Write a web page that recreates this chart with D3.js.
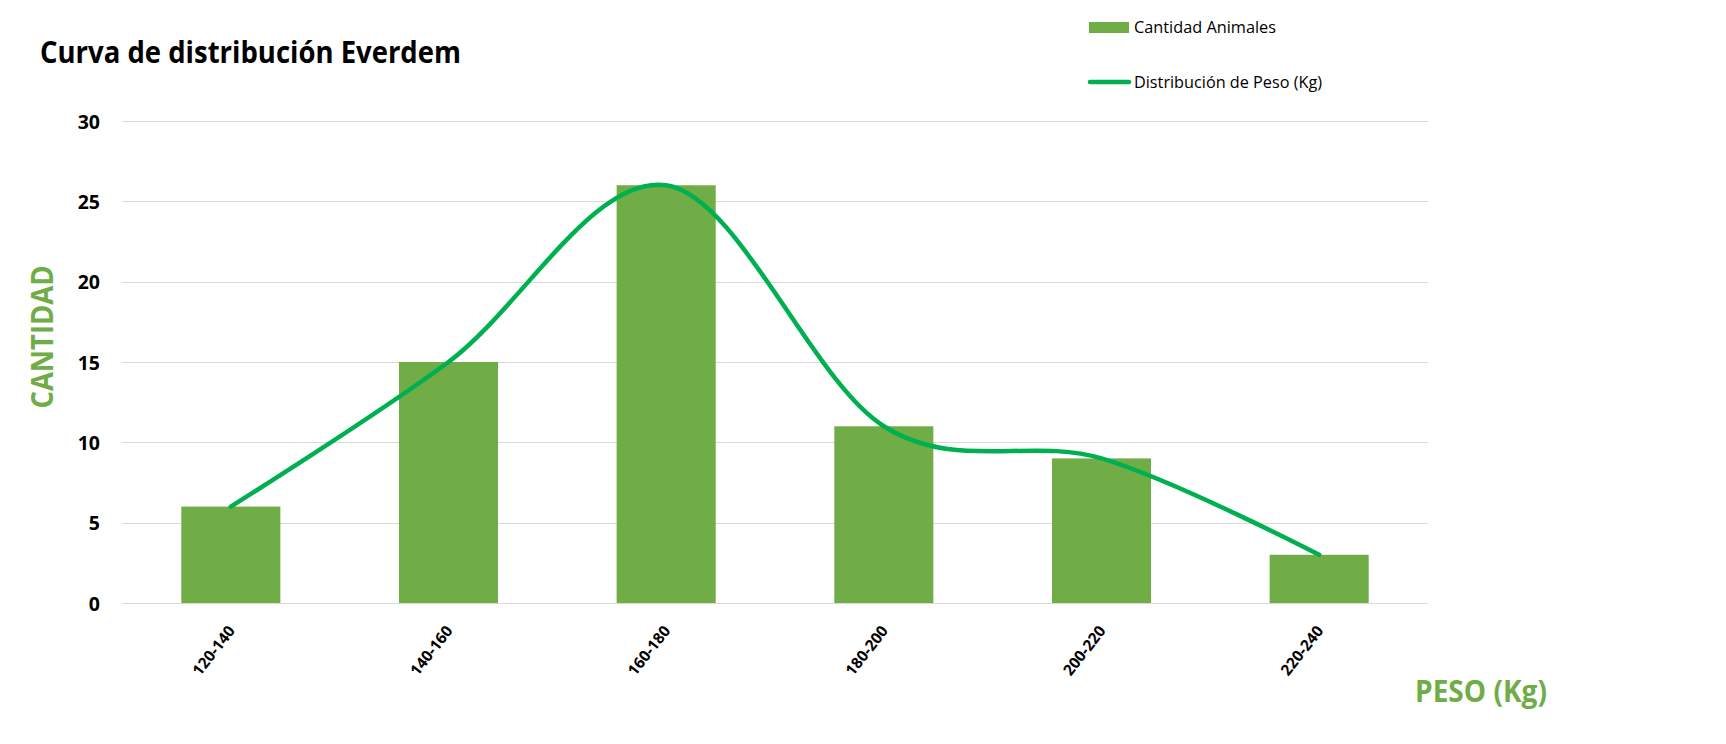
<!DOCTYPE html>
<html>
<head>
<meta charset="utf-8">
<script src="https://cdn.jsdelivr.net/npm/d3@7"></script>
<style>
  html, body { margin: 0; padding: 0; background: #ffffff; }
  svg { display: block; }
</style>
</head>
<body>
<svg id="chart" width="1726" height="744"></svg>
<script>
// ---- data ----
const categories = ["120-140", "140-160", "160-180", "180-200", "200-220", "220-240"];
const cantidadAnimales = [6, 15, 26, 11, 9, 3];
const distribucionPeso = [6, 15, 26, 11, 9, 3];
const yTicks = [0, 5, 10, 15, 20, 25, 30];

const title = "Curva de distribución Everdem";
const seriesNames = ["Cantidad Animales", "Distribución de Peso (Kg)"];
const yTitle = "CANTIDAD";
const xTitle = "PESO (Kg)";

// ---- layout ----
const barColor = "#70AD47";
const lineColor = "#00B050";
const gridColor = "#D9D9D9";
const font = "'Open Sans', 'Liberation Sans', sans-serif";

const svg = d3.select("#chart");
svg.append("rect").attr("width", 1726).attr("height", 744).attr("fill", "#fff");

const x = d3.scaleBand().domain(categories).range([122, 1428]).paddingInner(0.545).paddingOuter(0.2725);
const y = d3.scaleLinear().domain([0, 30]).range([603, 121]);

// gridlines
svg.append("g").selectAll("line").data(yTicks).join("line")
  .attr("x1", 122).attr("x2", 1428)
  .attr("y1", d => Math.round(y(d)) + 0.5).attr("y2", d => Math.round(y(d)) + 0.5)
  .attr("stroke", gridColor).attr("stroke-width", 1.2);

// bars
svg.append("g").selectAll("rect").data(cantidadAnimales).join("rect")
  .attr("x", (d, i) => x(categories[i]))
  .attr("y", d => y(d))
  .attr("width", x.bandwidth())
  .attr("height", d => y(0) - y(d))
  .attr("fill", barColor);

// smooth line
const lineGen = d3.line()
  .x((d, i) => x(categories[i]) + x.bandwidth() / 2)
  .y(d => y(d))
  .curve(d3.curveCardinal.tension(0));
svg.append("path").datum(distribucionPeso)
  .attr("d", lineGen)
  .attr("fill", "none")
  .attr("stroke", lineColor)
  .attr("stroke-width", 4.5)
  .attr("stroke-linecap", "round")
  .attr("stroke-linejoin", "round");

// y axis
const yAxis = svg.append("g").attr("transform", "translate(122,0)")
  .call(d3.axisLeft(y).tickValues(yTicks).tickSize(0).tickPadding(22));
yAxis.select(".domain").remove();
yAxis.selectAll("text")
  .attr("font-family", font).attr("font-weight", "bold").attr("font-size", 19.5)
  .attr("fill", "#000").attr("dy", "0.36em");

// x axis
const xAxis = svg.append("g").attr("transform", "translate(0,603)")
  .call(d3.axisBottom(x).tickSize(0));
xAxis.select(".domain").remove();
xAxis.selectAll("text")
  .attr("font-family", font).attr("font-weight", "bold").attr("font-size", 15.5)
  .attr("fill", "#000")
  .attr("x", 0).attr("y", 0).attr("dy", 0)
  .attr("text-anchor", "end")
  .attr("transform", "translate(5,28) rotate(-52)");

// title
svg.append("text").text(title)
  .attr("x", 40).attr("y", 63)
  .attr("font-family", font).attr("font-weight", "bold").attr("font-size", 30)
  .attr("fill", "#000")
  .attr("textLength", 421).attr("lengthAdjust", "spacingAndGlyphs");

// axis titles
svg.append("text").text(yTitle)
  .attr("transform", "translate(53,337) rotate(-90)")
  .attr("text-anchor", "middle")
  .attr("font-family", font).attr("font-weight", "bold").attr("font-size", 30)
  .attr("fill", barColor)
  .attr("textLength", 143).attr("lengthAdjust", "spacingAndGlyphs");

svg.append("text").text(xTitle)
  .attr("x", 1415).attr("y", 702)
  .attr("font-family", font).attr("font-weight", "bold").attr("font-size", 30)
  .attr("fill", barColor)
  .attr("textLength", 132).attr("lengthAdjust", "spacingAndGlyphs");

// legend
const leg = svg.append("g");
leg.append("rect").attr("x", 1089).attr("y", 22).attr("width", 40).attr("height", 11).attr("fill", barColor);
leg.append("text").text(seriesNames[0])
  .attr("x", 1134).attr("y", 33)
  .attr("font-family", font).attr("font-size", 16.5).attr("fill", "#000")
  .attr("textLength", 142).attr("lengthAdjust", "spacingAndGlyphs");
leg.append("line").attr("x1", 1090).attr("x2", 1129).attr("y1", 82).attr("y2", 82)
  .attr("stroke", lineColor).attr("stroke-width", 4.5).attr("stroke-linecap", "round");
leg.append("text").text(seriesNames[1])
  .attr("x", 1134).attr("y", 88)
  .attr("font-family", font).attr("font-size", 16.5).attr("fill", "#000")
  .attr("textLength", 188).attr("lengthAdjust", "spacingAndGlyphs");
</script>
</body>
</html>
